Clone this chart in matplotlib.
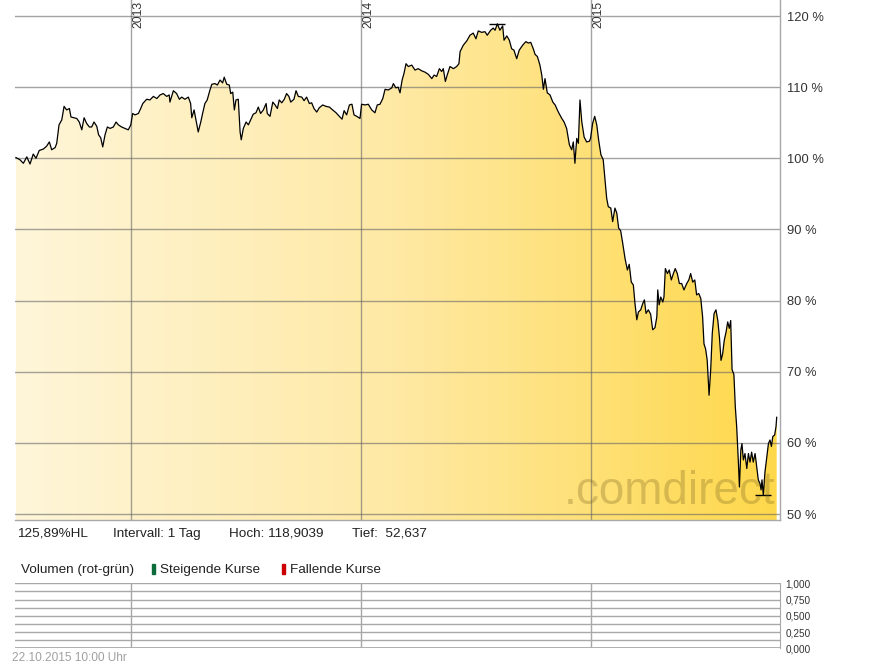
import numpy as np
import matplotlib.pyplot as plt
from matplotlib.colors import LinearSegmentedColormap
from matplotlib.patches import Rectangle

plt.rcParams['font.family'] = ['Liberation Sans', 'DejaVu Sans']

# time axis in decimal years, values in % of start
t = [2012.500, 2012.517, 2012.532, 2012.547, 2012.561, 2012.575, 2012.587, 2012.601, 2012.619, 2012.633,
     2012.645, 2012.655, 2012.670, 2012.677, 2012.687, 2012.699, 2012.709, 2012.720, 2012.732, 2012.739,
     2012.752, 2012.764, 2012.775, 2012.786, 2012.796, 2012.807, 2012.819, 2012.829, 2012.839, 2012.851,
     2012.859, 2012.868, 2012.877, 2012.887, 2012.897, 2012.909, 2012.923, 2012.935, 2012.945, 2012.959,
     2012.974, 2012.988, 2012.999, 2013.007, 2013.017, 2013.032, 2013.042, 2013.051, 2013.068, 2013.082,
     2013.097, 2013.112, 2013.126, 2013.140, 2013.155, 2013.166, 2013.169, 2013.184, 2013.198, 2013.210,
     2013.220, 2013.234, 2013.249, 2013.259, 2013.264, 2013.274, 2013.282, 2013.292, 2013.303, 2013.311,
     2013.321, 2013.331, 2013.343, 2013.351, 2013.365, 2013.375, 2013.387, 2013.398, 2013.405, 2013.416,
     2013.427, 2013.433, 2013.442, 2013.449, 2013.456, 2013.466, 2013.474, 2013.479, 2013.488, 2013.500,
     2013.510, 2013.520, 2013.531, 2013.543, 2013.553, 2013.563, 2013.575, 2013.587, 2013.592, 2013.604,
     2013.616, 2013.626, 2013.636, 2013.644, 2013.655, 2013.666, 2013.676, 2013.686, 2013.694, 2013.708,
     2013.717, 2013.727, 2013.742, 2013.752, 2013.763, 2013.775, 2013.785, 2013.795, 2013.807, 2013.818,
     2013.833, 2013.847, 2013.862, 2013.876, 2013.891, 2013.905, 2013.917, 2013.926, 2013.937, 2013.949,
     2013.960, 2013.969, 2013.981, 2013.995, 2014.002, 2014.017, 2014.031, 2014.046, 2014.060, 2014.070,
     2014.082, 2014.094, 2014.104, 2014.118, 2014.133, 2014.140, 2014.151, 2014.161, 2014.169, 2014.178,
     2014.186, 2014.195, 2014.205, 2014.220, 2014.234, 2014.248, 2014.263, 2014.278, 2014.292, 2014.307,
     2014.317, 2014.328, 2014.340, 2014.350, 2014.357, 2014.366, 2014.374, 2014.386, 2014.401, 2014.415,
     2014.425, 2014.430, 2014.444, 2014.459, 2014.473, 2014.487, 2014.499, 2014.509, 2014.524, 2014.538,
     2014.548, 2014.563, 2014.574, 2014.582, 2014.592, 2014.603, 2014.615, 2014.621, 2014.633, 2014.644,
     2014.654, 2014.664, 2014.676, 2014.687, 2014.702, 2014.716, 2014.726, 2014.737, 2014.748, 2014.756,
     2014.766, 2014.777, 2014.785, 2014.792, 2014.799, 2014.809, 2014.821, 2014.833, 2014.843, 2014.857,
     2014.872, 2014.882, 2014.893, 2014.905, 2014.915, 2014.922, 2014.929, 2014.937, 2014.944, 2014.951,
     2014.959, 2014.969, 2014.980, 2014.992, 2014.997, 2015.006, 2015.015, 2015.024, 2015.032, 2015.042,
     2015.052, 2015.060, 2015.067, 2015.074, 2015.085, 2015.093, 2015.103, 2015.111, 2015.119, 2015.128,
     2015.137, 2015.147, 2015.157, 2015.165, 2015.174, 2015.183, 2015.190, 2015.198, 2015.205, 2015.215,
     2015.224, 2015.231, 2015.238, 2015.248, 2015.258, 2015.267, 2015.277, 2015.285, 2015.289, 2015.295,
     2015.302, 2015.311, 2015.316, 2015.322, 2015.331, 2015.339, 2015.348, 2015.357, 2015.365, 2015.374,
     2015.383, 2015.393, 2015.403, 2015.415, 2015.424, 2015.432, 2015.441, 2015.450, 2015.458, 2015.467,
     2015.476, 2015.484, 2015.490, 2015.497, 2015.504, 2015.512, 2015.519, 2015.526, 2015.534, 2015.542,
     2015.550, 2015.557, 2015.564, 2015.571, 2015.578, 2015.586, 2015.593, 2015.600, 2015.606, 2015.612,
     2015.620, 2015.626, 2015.632, 2015.639, 2015.644, 2015.650, 2015.655, 2015.661, 2015.668, 2015.676,
     2015.683, 2015.690, 2015.697, 2015.704, 2015.712, 2015.719, 2015.726, 2015.733, 2015.738, 2015.742,
     2015.748, 2015.755, 2015.763, 2015.770, 2015.777, 2015.783, 2015.789, 2015.797, 2015.803, 2015.806]

pct = [100.1, 99.8, 99.3, 100.2, 99.2, 100.6, 100.0, 101.1, 101.3, 101.7,
       102.3, 101.2, 101.5, 102.1, 104.7, 105.4, 107.3, 106.8, 107.0, 105.8,
       105.7, 105.6, 105.1, 104.0, 105.7, 104.9, 104.4, 104.4, 105.1, 104.5,
       103.3, 102.9, 101.6, 103.3, 104.4, 104.2, 104.4, 105.1, 104.7, 104.4,
       104.2, 104.0, 104.7, 106.3, 106.1, 106.3, 107.0, 107.7, 108.3, 108.2,
       108.7, 108.4, 108.9, 109.1, 108.7, 108.9, 107.9, 109.5, 109.1, 108.3,
       108.6, 108.3, 108.6, 107.7, 105.7, 106.8, 105.4, 103.7, 105.1, 106.3,
       107.7, 108.2, 109.6, 110.4, 110.5, 110.3, 111.0, 110.6, 111.4, 110.4,
       110.3, 109.1, 109.3, 106.8, 108.2, 108.3, 103.7, 102.6, 104.2, 105.1,
       104.7, 105.4, 106.2, 106.4, 107.2, 106.3, 106.8, 107.7, 106.3, 105.9,
       107.9, 107.5, 107.0, 108.2, 107.8, 108.3, 109.1, 108.7, 107.9, 108.3,
       109.5, 108.7, 108.6, 108.1, 108.6, 107.7, 107.8, 107.0, 106.5, 107.1,
       107.5, 107.3, 107.2, 106.8, 106.4, 105.9, 105.5, 106.7, 106.1, 107.5,
       107.6, 106.1, 105.9, 105.6, 107.6, 107.5, 107.6, 106.8, 106.4, 107.5,
       107.6, 108.4, 109.7, 109.6, 109.9, 110.5, 109.9, 110.0, 109.2, 111.0,
       111.9, 113.3, 112.9, 113.1, 112.4, 112.6, 112.3, 112.1, 111.8, 111.2,
       111.7, 111.5, 112.6, 112.2, 112.6, 110.8, 111.7, 112.9, 112.6, 112.9,
       113.3, 115.0, 115.9, 116.5, 117.3, 117.6, 116.8, 117.9, 117.7, 117.8,
       117.3, 118.0, 118.3, 118.0, 118.9, 118.0, 118.6, 116.6, 117.2, 116.6,
       115.4, 115.2, 114.0, 115.2, 115.9, 116.4, 116.2, 116.3, 115.4, 114.6,
       114.3, 113.1, 111.7, 109.7, 111.2, 109.2, 108.9, 107.9, 107.5, 106.5,
       105.6, 105.1, 104.2, 101.9, 101.2, 102.3, 99.3, 102.8, 102.1, 108.2,
       105.1, 103.0, 102.3, 102.4, 102.8, 104.9, 105.9, 104.7, 102.6, 100.5,
       99.8, 97.0, 94.4, 93.2, 93.0, 91.1, 93.0, 92.3, 90.2, 89.8,
       88.0, 85.9, 84.3, 85.1, 82.6, 82.2, 79.6, 77.3, 78.4, 78.7,
       79.6, 80.1, 78.2, 78.7, 78.1, 75.9, 76.2, 77.7, 81.5, 79.4,
       80.5, 79.8, 80.5, 84.5, 83.8, 84.3, 82.9, 83.8, 84.5, 83.8,
       82.4, 82.4, 81.5, 82.4, 82.9, 83.8, 82.6, 82.9, 80.8, 81.0,
       80.3, 77.7, 73.9, 73.2, 71.6, 66.7, 70.2, 75.4, 78.2, 78.7,
       77.2, 74.9, 71.6, 72.5, 74.4, 75.6, 77.0, 76.1, 77.2, 70.3,
       69.6, 65.1, 62.3, 57.6, 53.8, 59.0, 59.9, 57.6, 58.5, 56.4,
       58.5, 57.3, 58.7, 57.3, 58.5, 56.6, 54.8, 54.3, 53.4, 54.8,
       52.64, 55.9, 58.0, 59.9, 60.4, 59.5, 60.9, 61.1, 62.3, 63.6]

year_lines = [2013, 2014, 2015]
pct_ticks = [50, 60, 70, 80, 90, 100, 110, 120]
vol_ticks = [0.0, 0.25, 0.5, 0.75, 1.0]
vol_tick_labels = ['0,000', '0,250', '0,500', '0,750', '1,000']
info_labels = ['125,89%HL', 'Intervall: 1 Tag', 'Hoch: 118,9039', 'Tief:  52,637']
info_x = [17, 113, 229, 352]
stamp = '22.10.2015 10:00 Uhr'

W, H = 895, 669
x0, x1 = 2012.4957, 2015.8203
y0, y1 = 49.16, 122.25
grid_col = (0.4, 0.4, 0.4, 0.6)
frame_col = '#A8A8A8'
txt_col = '#333333'


def fx(px):
    return px / W


def fy(py):
    return 1 - py / H


fig = plt.figure(figsize=(W / 100, H / 100), dpi=100)

# main price panel
ax = fig.add_axes([fx(15), fy(520), 765 / W, 520 / H])
cmap = LinearSegmentedColormap.from_list('cd', ['#FFF6DA', '#FEE9A4', '#FFD84A'])
grad = np.linspace(0, 1, 256).reshape(1, -1)
im = ax.imshow(grad, extent=[x0, x1, y0, y1], aspect='auto', cmap=cmap, zorder=0)
poly = ax.fill_between(t, pct, y0, facecolor='none', edgecolor='none')
im.set_clip_path(poly.get_paths()[0], transform=ax.transData)

for v in pct_ticks:
    ax.axhline(v, color=grid_col, lw=1, zorder=1.5)
for yr in year_lines:
    ax.axvline(yr, color=grid_col, lw=1, zorder=1.5)

ax.plot(t, pct, color='black', lw=0.9, zorder=3)
i_hi = int(np.argmax(pct))
i_lo = int(np.argmin(pct))
ax.plot([t[i_hi]], [pct[i_hi]], marker='_', ms=11, mew=1, color='black', zorder=4)
ax.plot([t[i_lo]], [pct[i_lo]], marker='_', ms=11, mew=1, color='black', zorder=4)

ax.set_xlim(x0, x1)
ax.set_ylim(y0, y1)
ax.set_xticks([])
ax.yaxis.tick_right()
ax.set_yticks(pct_ticks)
ax.set_yticklabels([f'{v} %' for v in pct_ticks])
ax.tick_params(axis='y', length=0, pad=5, labelsize=9.3, labelcolor=txt_col)
for s in ['left', 'top']:
    ax.spines[s].set_visible(False)
for s in ['right', 'bottom']:
    ax.spines[s].set_color(frame_col)
    ax.spines[s].set_linewidth(1)

for yr in year_lines:
    ax.text(yr + 0.005, 0.999, str(yr), rotation=90, ha='left', va='top',
            fontsize=8.8, color=txt_col, transform=ax.get_xaxis_transform())

# faint logo watermark
fig.text(fx(775), fy(504), '.comdirect', ha='right', va='baseline', fontsize=33,
         color='#7a6420', alpha=0.3)

# info line
for lab, px in zip(info_labels, info_x):
    fig.text(fx(px), fy(533.5), lab, fontsize=9.7, color='#222222', va='center')

# volume legend
fig.text(fx(21), fy(570), 'Volumen (rot-grün)', fontsize=9.7, color='#222222', va='center')
fig.add_artist(Rectangle((fx(152), fy(574)), 3 / W, 10.5 / H, transform=fig.transFigure,
                         color='#0B6B3A'))
fig.text(fx(160), fy(570), 'Steigende Kurse', fontsize=9.7, color='#222222', va='center')
fig.add_artist(Rectangle((fx(282), fy(574)), 3 / W, 10.5 / H, transform=fig.transFigure,
                         color='#CC0000'))
fig.text(fx(290), fy(570), 'Fallende Kurse', fontsize=9.7, color='#222222', va='center')

# empty volume panel
vax = fig.add_axes([fx(15), fy(648.3), 765 / W, 65 / H])
vax.set_xlim(x0, x1)
vax.set_ylim(0, 1)
for v in np.arange(0.125, 1.001, 0.125):
    vax.axhline(v, color=frame_col, lw=1)
vax.axhline(0, color=frame_col, lw=2)
for yr in year_lines:
    vax.axvline(yr, color=frame_col, lw=1)
vax.set_xticks([])
vax.yaxis.tick_right()
vax.set_yticks(vol_ticks)
vax.set_yticklabels(vol_tick_labels)
vax.tick_params(axis='y', length=0, pad=4, labelsize=7.2, labelcolor=txt_col)
for s in ['left', 'top', 'bottom']:
    vax.spines[s].set_visible(False)
vax.spines['right'].set_color(frame_col)

fig.text(fx(12), fy(658), stamp, fontsize=8.6, color='#A0A0A0', va='center')

fig.savefig('out.png', dpi=100)
